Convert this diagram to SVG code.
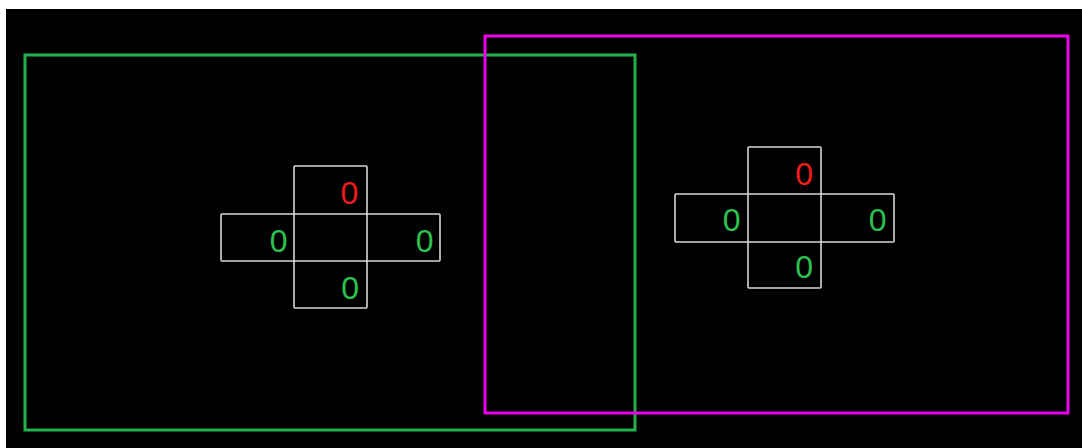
<svg xmlns="http://www.w3.org/2000/svg" width="1082" height="448" viewBox="0 0 1082 448">
<style>
.cell{fill:none;stroke:#d6d6d6;stroke-width:1.6}
.num{font-family:"Liberation Sans",Arial,sans-serif;font-size:32px;text-anchor:end}
.g{fill:#2cc150}
.r{fill:#f01c1c}
</style>
<rect x="0" y="0" width="1082" height="448" fill="#ffffff"/>
<rect x="6" y="9" width="1076" height="439" fill="#000000"/>
<g id="frame-green"><rect x="25" y="55" width="610" height="375" fill="none" stroke="#22b14c" stroke-width="3"/></g>
<g id="frame-magenta"><rect x="485" y="36" width="583" height="377" fill="none" stroke="#ee00ee" stroke-width="3"/></g>
<g id="cross-left">
<rect class="cell" x="294" y="166" width="73" height="142" rx="1"/>
<rect class="cell" x="221" y="214" width="219" height="47" rx="1"/>
<text class="num r" x="358.2" y="203.5">0</text>
<text class="num g" x="287.5" y="251.5">0</text>
<text class="num g" x="433.5" y="251.5">0</text>
<text class="num g" x="359" y="298.5">0</text>
</g>
<g id="cross-right">
<rect class="cell" x="748" y="147" width="73" height="141" rx="1"/>
<rect class="cell" x="675" y="194" width="219" height="48" rx="1"/>
<text class="num r" x="813" y="184.5">0</text>
<text class="num g" x="740.5" y="231">0</text>
<text class="num g" x="886.5" y="231">0</text>
<text class="num g" x="813" y="277.5">0</text>
</g>
</svg>
